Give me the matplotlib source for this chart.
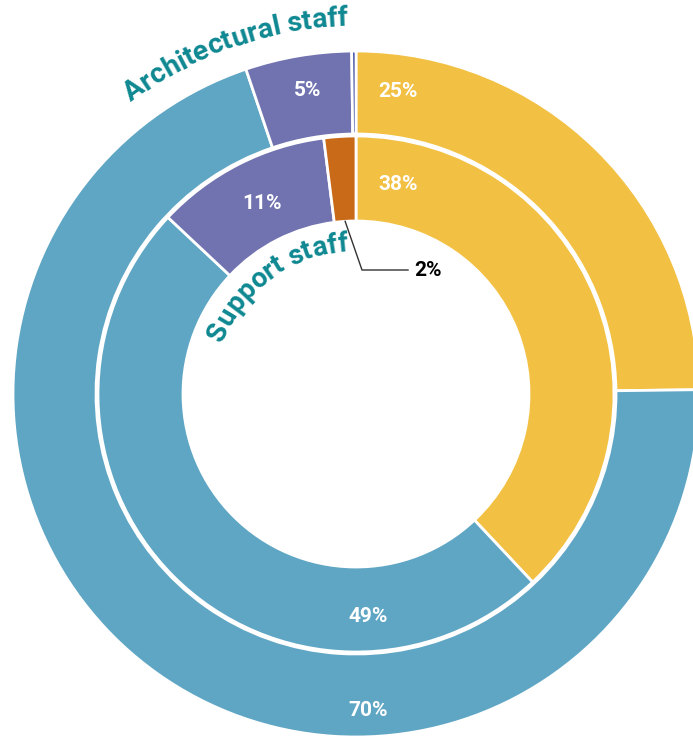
import numpy as np
import matplotlib.pyplot as plt
from matplotlib.font_manager import FontProperties, findfont, get_font

plt.rcParams['font.family'] = ['Roboto', 'DejaVu Sans']

# shares (%) for each ring, clockwise from 12 o'clock
outer_values = [24.8, 70, 5, 0.2]
outer_text = ["25%", "70%", "5%", ""]
inner_values = [38, 49, 11, 2]
inner_text = ["38%", "49%", "11%", "2%"]

outer_title = "Architectural staff"
inner_title = "Support staff"

YELLOW = "#f2c042"
BLUE = "#5fa6c4"
PURPLE = "#7173b0"
NAVY = "#3b4aa0"
ORANGE = "#c96a18"
TEAL = "#0f8892"

outer_colors = [YELLOW, BLUE, PURPLE, NAVY]
inner_colors = [YELLOW, BLUE, PURPLE, ORANGE]

# label placement (degrees clockwise from top, radius in px)
outer_lab_ang = [7.9, 177.8, 351.0, None]
outer_lab_r = [305, 317, 307, None]
inner_lab_ang = [11.3, 176.9, 333.8, None]
inner_lab_r = [214, 223, 212, None]

W, H = 693, 740
CX, CY = 356, H - 394
R_OUT, R_MID_O, R_MID_I, R_HOLE = 343, 260, 258, 173

fig = plt.figure(figsize=(W / 100, H / 100), dpi=100)
ax = fig.add_axes([0, 0, 1, 1])

wp = dict(edgecolor="white", linewidth=2)
ax.pie(outer_values, radius=R_OUT, center=(CX, CY), startangle=90,
       counterclock=False, colors=outer_colors,
       wedgeprops=dict(width=R_OUT - R_MID_O, **wp))
ax.pie(inner_values, radius=R_MID_I, center=(CX, CY), startangle=90,
       counterclock=False, colors=inner_colors,
       wedgeprops=dict(width=R_MID_I - R_HOLE, **wp))

ax.set_xlim(0, W)
ax.set_ylim(0, H)
ax.set_aspect("equal")
ax.axis("off")


def polar(r, deg):
    a = np.radians(deg)
    return CX + r * np.sin(a), CY + r * np.cos(a)


for txt, ang, r in zip(outer_text + inner_text, outer_lab_ang + inner_lab_ang,
                       outer_lab_r + inner_lab_r):
    if ang is None:
        continue
    x, y = polar(r, ang)
    ax.text(x, y, txt, ha="center", va="center", color="white",
            fontsize=15, fontweight="bold")

# small slice label with leader line
mid = 360 * (sum(inner_values[:-1]) + inner_values[-1] / 2) / sum(inner_values)
x0, y0 = polar(R_HOLE, mid)
ax.plot([x0, CX + 6, CX + 52], [y0, CY + 124, CY + 124], color="#333333", lw=1)
ax.text(CX + 58, CY + 123, inner_text[-1], ha="left", va="center",
        color="black", fontsize=15, fontweight="bold")


def arc_text(text, r, mid_deg, size, color):
    fp = FontProperties(family="Roboto", weight="bold", size=size)
    font = get_font(findfont(fp))
    font.set_size(size, 100)
    adv = [font.load_char(ord(c)).linearHoriAdvance / 65536 for c in text]
    start = mid_deg - np.degrees(sum(adv) / r) / 2
    s = 0
    for c, a in zip(text, adv):
        ang = start + np.degrees((s + a / 2) / r)
        x, y = polar(r, ang)
        ax.text(x, y, c, rotation=-ang, rotation_mode="anchor", ha="center",
                va="baseline", fontproperties=fp, color=color)
        s += a


arc_text(outer_title, 368, -19.4, 20.5, TEAL)
arc_text(inner_title, 143, -36.0, 20, TEAL)

fig.savefig("out.png", dpi=100)
